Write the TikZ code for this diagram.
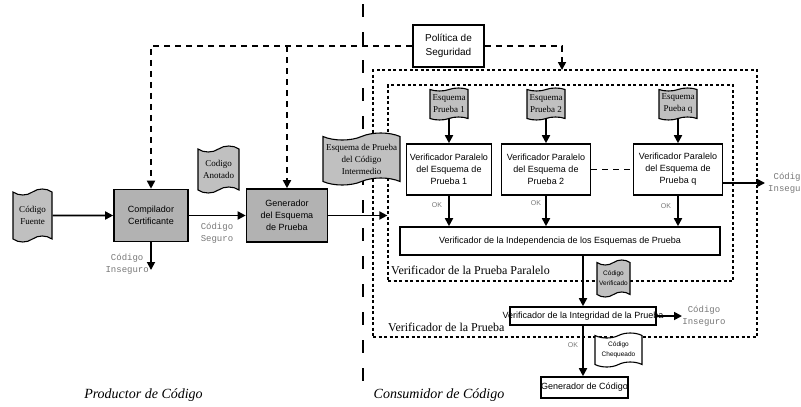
\documentclass[tikz,border=0pt]{standalone}
\usepackage{fontspec}
\setmainfont{Liberation Serif}
\setsansfont{Liberation Sans}
\setmonofont{Liberation Mono}
\usetikzlibrary{shapes.symbols,arrows.meta}
\definecolor{grisbox}{RGB}{178,178,178}
\definecolor{grisdoc}{RGB}{192,192,192}
\definecolor{grislabel}{RGB}{120,120,120}

\begin{document}
\begin{tikzpicture}[x=1pt,y=-1pt,
	caja/.style={draw, line width=1.6pt, align=center, inner sep=1pt, font=\sffamily\fontsize{9}{12}\selectfont},
	cajagris/.style={caja, fill=grisbox},
	doc/.style={tape, draw, line width=1.1pt, fill=grisdoc, align=center, inner sep=0pt, tape bend height=5pt, font=\fontsize{9}{12}\selectfont},
	flecha/.style={line width=1.7pt, -{Triangle[length=8pt,width=8pt]}},
	punteada/.style={line width=1.7pt, dash pattern=on 6pt off 5pt},
	marco/.style={draw, line width=1.2pt, dash pattern=on 3pt off 2.5pt},
	etiq/.style={font=\ttfamily\fontsize{9}{12}\selectfont, text=grislabel, align=center, inner sep=0pt},
	ok/.style={font=\sffamily\fontsize{7}{8}\selectfont, text=grislabel, inner sep=0pt}]
	\useasboundingbox (0,0) rectangle (801,407);
		\draw [line width=1.8pt, dash pattern=on 13pt off 15pt] (363,4) -- (363,386);
		\node [marco, minimum width=384pt, minimum height=267pt] (exterior) at (565,203.5) {};
		\node [marco, minimum width=345pt, minimum height=196pt] (interior) at (560.5,183) {};
		\node [cajagris, minimum width=74pt, minimum height=52pt] (comp) at (151,215.5) {Compilador\\Certificante};
		\node [cajagris, minimum width=81pt, minimum height=53pt] (gen) at (287,215.5) {Generador\\del Esquema\\de Prueba};
		\node [caja, minimum width=71pt, minimum height=42pt, font=\sffamily\fontsize{10}{14}\selectfont] (pol) at (448.5,46) {Política de\\Seguridad};
		\node [caja, minimum width=85pt, minimum height=51pt] (v1) at (449,169.5) {Verificador Paralelo\\del Esquema de\\Prueba 1};
		\node [caja, minimum width=89pt, minimum height=51pt] (v2) at (546,169.5) {Verificador Paralelo\\del Esquema de\\Prueba 2};
		\node [caja, minimum width=89pt, minimum height=51pt] (v3) at (678,169.5) {Verificador Paralelo\\del Esquema de\\Prueba q};
		\node [caja, minimum width=320pt, minimum height=28pt] (indep) at (560,241) {Verificador de la Independencia de los Esquemas de Prueba};
		\node [caja, minimum width=146pt, minimum height=18pt, inner sep=0pt] (integ) at (583,316) {\makebox[146pt][c]{Verificador de la Integridad de la Prueba}};
		\node [caja, minimum width=85pt, minimum height=21pt, inner sep=0pt] (gencod) at (584.5,387.5) {Generador de Código};
		\node [doc, minimum width=39pt, minimum height=53pt, tape bend height=6pt] (fuente) at (32.5,215.5) {Código\\Fuente};
		\node [doc, minimum width=41pt, minimum height=47pt, tape bend height=6pt] (anotado) at (218.5,169.5) {Codigo\\Anotado};
		\node [doc, minimum width=77pt, minimum height=52pt, tape bend height=7pt] (intermedio) at (361.5,159) {Esquema de Prueba\\del Código\\Intermedio};
		\node [doc, minimum width=38pt, minimum height=32pt, tape bend height=3pt] (esq1) at (449,104) {Esquema\\Prueba 1};
		\node [doc, minimum width=38pt, minimum height=32pt, tape bend height=3pt] (esq2) at (546,104) {Esquema\\Prueba 2};
		\node [doc, minimum width=38pt, minimum height=32pt, tape bend height=3pt] (esqq) at (678,104) {Esquema\\Pueba q};
		\node [doc, minimum width=33pt, minimum height=37pt, font=\sffamily\fontsize{6.5}{10}\selectfont] (verificado) at (613.5,278.5) {Código\\Verificado};
		\node [doc, minimum width=47pt, minimum height=34pt, fill=white, font=\sffamily\fontsize{6.5}{10}\selectfont] (chequeado) at (618.5,350) {Código\\Chequeado};
		\coordinate (inseg1) at (151,270);
		\coordinate (entrada) at (562,70);
		\coordinate (inseg3) at (765,183);
		\coordinate (inseg4) at (682,316);
		\draw [flecha] (fuente) -- (comp);
		\draw [flecha] (comp) -- (gen);
		\draw [flecha] (comp) -- (inseg1);
		\draw [flecha] (gen) -- (gen -| interior.west);
		\draw [punteada, -{Triangle[length=8pt,width=8pt]}] (pol.west) -| (comp.north);
		\draw [punteada, -{Triangle[length=8pt,width=8pt]}] (gen.north |- pol.west) -- (gen.north);
		\draw [punteada, -{Triangle[length=8pt,width=8pt]}] (pol.east) -| (entrada);
		\draw [flecha] (esq1.south) -- (esq1.south |- v1.north);
		\draw [flecha] (esq2.south) -- (esq2.south |- v2.north);
		\draw [flecha] (esqq.south) -- (esqq.south |- v3.north);
		\draw [punteada] (v2) -- (v3);
		\draw [flecha] (v3.east |- inseg3) -- (inseg3);
		\draw [flecha] (v1.south) -- (v1.south |- indep.north);
		\draw [flecha] (v2.south) -- (v2.south |- indep.north);
		\draw [flecha] (v3.south) -- (v3.south |- indep.north);
		\draw [flecha] (indep.south -| integ.north) -- (integ.north);
		\draw [flecha] (integ.east) -- (inseg4);
		\draw [flecha] (integ.south) -- (integ.south |- gencod.north);
		\node [etiq] (seguro) at (217,233) {Código\\Seguro};
		\node [etiq, anchor=east] (inseguro1) at (149,264) {Código\\Inseguro};
		\node [etiq, anchor=west] (inseguro3) at (768,183) {Código\\Inseguro};
		\node [etiq] (inseguro4) at (704,316) {Código\\Inseguro};
		\node [ok] (ok1) at (437,205) {OK};
		\node [ok] (ok2) at (536,203) {OK};
		\node [ok] (ok3) at (666,206) {OK};
		\node [ok] (ok4) at (573,345) {OK};
		\node [anchor=west, inner sep=0pt, font=\fontsize{12}{14}\selectfont] (paralelo) at (391,270) {Verificador de la Prueba Paralelo};
		\node [anchor=west, inner sep=0pt, font=\fontsize{12}{14}\selectfont] (prueba) at (388,327) {Verificador de la Prueba};
		\node [font=\itshape\fontsize{14}{16}\selectfont] (productor) at (143.5,395) {Productor de Código};
		\node [font=\itshape\fontsize{14}{16}\selectfont] (consumidor) at (439,395) {Consumidor de Código};
\end{tikzpicture}
\end{document}
